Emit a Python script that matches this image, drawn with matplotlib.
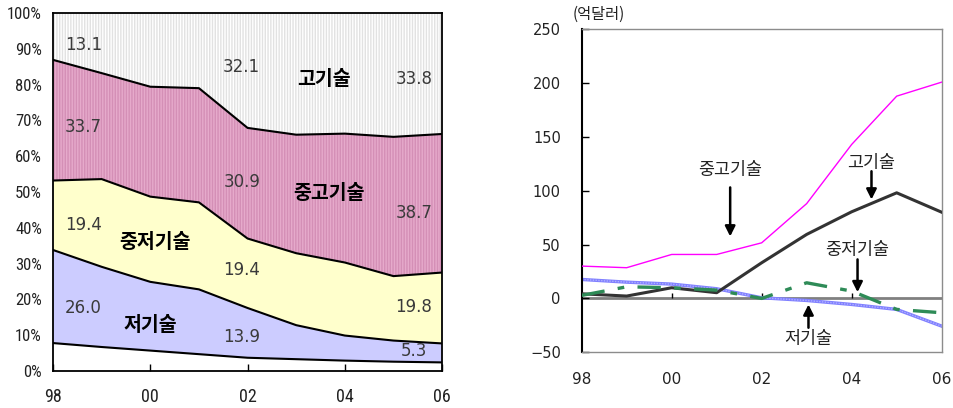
import numpy as np
import matplotlib
matplotlib.use("Agg")
import matplotlib.pyplot as plt
from matplotlib import font_manager

plt.rcParams['font.family'] = ['Noto Sans CJK KR', 'DejaVu Sans']
plt.rcParams['hatch.linewidth'] = 1.0

# ---- data -------------------------------------------------------------
years = [1998, 1999, 2000, 2001, 2002, 2003, 2004, 2005, 2006]
tick_years = [1998, 2000, 2002, 2004, 2006]
tick_labels = ['98', '00', '02', '04', '06']

# export share by technology level (%)
share_other = [7.8, 6.7, 5.7, 4.7, 3.7, 3.3, 2.9, 2.6, 2.4]
share_low = [26.0, 22.4, 19.2, 18.1, 13.9, 9.5, 7.0, 5.9, 5.3]
share_midlow = [19.4, 24.5, 23.8, 24.3, 19.4, 20.1, 20.4, 18.0, 19.8]
share_midhigh = [33.7, 29.6, 30.7, 31.9, 30.9, 33.1, 36.0, 38.9, 38.7]
share_high = [13.1, 16.8, 20.6, 21.0, 32.1, 34.0, 33.7, 34.6, 33.8]

# trade balance by technology level (100 million USD)
bal_high = [4.3, 2.2, 9.9, 5.3, 33.1, 59.4, 80.4, 98.0, 80.0]
bal_midhigh = [30.0, 28.5, 40.8, 40.8, 51.6, 88.0, 142.9, 187.7, 200.7]
bal_midlow = [2.8, 10.8, 9.9, 7.7, 0.0, 14.5, 6.8, -10.2, -13.3]
bal_low = [17.6, 15.1, 13.3, 9.0, 0.6, -1.9, -5.6, -10.2, -25.7]

pct_ticks = list(range(0, 101, 10))
bal_ticks = [-50, 0, 50, 100, 150, 200, 250]

# narrow face for the percentage axis, if one is available
installed = {f.name for f in font_manager.fontManager.ttflist}
narrow = [n for n in ('Liberation Sans Narrow', 'DejaVu Sans Condensed', 'Roboto Condensed')
          if n in installed]
narrow_family = (narrow[:1] or ['DejaVu Sans'])

fig = plt.figure(figsize=(9.54, 4.08), dpi=100)

# ---- left: stacked shares ---------------------------------------------
ax1 = fig.add_axes([0.0556, 0.0907, 0.4078, 0.8775])
x = np.array(years, dtype=float)
layers = [share_other, share_low, share_midlow, share_midhigh, share_high]
tops = np.cumsum(np.array(layers, dtype=float), axis=0)
bottoms = np.vstack([np.zeros(len(years)), tops[:-1]])

fills = ['white', '#CCCCFF', '#FFFFCC', '#E6AACB', 'white']
hatches = [None, None, None, '||||||', '||||||']
hatch_cols = [None, None, None, '#D48FB6', '#E2E2E2']
for i in range(len(layers)):
    ax1.fill_between(x, bottoms[i], tops[i], facecolor=fills[i], linewidth=0, zorder=1)
    if hatches[i]:
        ax1.fill_between(x, bottoms[i], tops[i], facecolor='none',
                         edgecolor=hatch_cols[i], hatch=hatches[i], linewidth=0, zorder=1.5)
for i in range(len(layers) - 1):
    ax1.plot(x, tops[i], color='black', lw=1.5, zorder=3)

ax1.set_xlim(years[0], years[-1])
ax1.set_ylim(0, 100)
ax1.set_yticks(pct_ticks)
ax1.set_yticklabels([f'{v}%' for v in pct_ticks])
ax1.set_xticks(tick_years)
ax1.set_xticklabels(tick_labels)
ax1.tick_params(axis='y', length=0, pad=8, labelsize=12)
ax1.tick_params(axis='x', direction='in', length=5, width=1, pad=12, labelsize=13)
for lab in ax1.get_xticklabels() + ax1.get_yticklabels():
    lab.set_family(narrow_family)
    lab.set_color('#222222')
for s in ax1.spines.values():
    s.set_color('black')
    s.set_linewidth(1.3)
    s.set_zorder(4)

# value labels at 98, 02, 06
val_layers = [share_low, share_midlow, share_midhigh, share_high]
label_pos = {
    0: (1998.62, [17.6, 40.8, 68.2, 91.1]),
    4: (2001.88, [9.5, 28.2, 52.8, 84.9]),
    8: (2005.42, [5.6, 17.9, 44.1, 81.6]),
}
for idx, (lx, ys) in label_pos.items():
    for layer, ly in zip(val_layers, ys):
        ax1.text(lx, ly, f'{layer[idx]:.1f}', ha='center', va='center',
                 fontsize=12, color='#3a3a3a', family='DejaVu Sans', zorder=5)

for txt, tx, ty in [('고기술', 2003.58, 81.3), ('중고기술', 2003.68, 49.7),
                    ('중저기술', 2000.1, 35.8), ('저기술', 1999.99, 12.8)]:
    ax1.text(tx, ty, txt, ha='center', va='center', fontsize=14,
             fontweight='bold', color='black', zorder=5)

# ---- right: trade balance ---------------------------------------------
ax2 = fig.add_axes([0.6097, 0.1365, 0.3774, 0.7924])
ax2.axhline(0, color='#808080', lw=2, zorder=1)
ax2.vlines(tick_years[1:-1], 0, 5, color='black', lw=1, zorder=1.5)

ax2.plot(years, bal_midhigh, color='#FF00FF', lw=1.0, zorder=3)
ax2.plot(years, bal_high, color='#333333', lw=2.2, zorder=3)
ax2.plot(years, bal_midlow, color='#2E8B57', lw=2.4, dashes=(7, 4, 2, 4), zorder=3)
ax2.plot(years, bal_low, color='#8080FF', lw=2.4, zorder=2)
ax2.plot(years, bal_low, color='#B0B0FF', lw=1.0, ls=(0, (1, 1)), zorder=2.1)

ax2.set_xlim(years[0], years[-1])
ax2.set_ylim(-50, 250)
ax2.set_yticks(bal_ticks)
ax2.set_yticklabels(['\u221250' if v < 0 else str(v) for v in bal_ticks])
ax2.set_xticks(tick_years)
ax2.set_xticklabels(tick_labels)
ax2.tick_params(axis='y', direction='in', length=5, width=1, pad=15, labelsize=10.5,
                labelcolor='#222222')
ax2.tick_params(axis='x', length=0, pad=14, labelsize=11, labelcolor='#222222')
for lab in ax2.get_xticklabels() + ax2.get_yticklabels():
    lab.set_family('DejaVu Sans')
for name, s in ax2.spines.items():
    if name == 'left':
        s.set_color('black')
        s.set_linewidth(1.5)
    else:
        s.set_color('#8C8C8C')
        s.set_linewidth(1.0)

ax2.text(-0.025, 1.045, '(억달러)', transform=ax2.transAxes, ha='left', va='center',
         fontsize=11, color='#222222')

arrow_kw = dict(arrowstyle='-|>,head_length=0.6,head_width=0.3', color='black', lw=1.8,
                shrinkA=0, shrinkB=0)
annos = [
    ('중고기술', (2001.3, 57.5), (2001.3, 103.0), 119.0),
    ('고기술', (2004.44, 91.8), (2004.44, 118.0), 126.0),
    ('중저기술', (2004.13, 5.8), (2004.13, 36.2), 44.5),
    ('저기술', (2003.04, -5.6), (2003.04, -27.2), -38.0),
]
for txt, tip, tail, ty in annos:
    ax2.annotate('', xy=tip, xytext=tail, arrowprops=arrow_kw, zorder=4)
    ax2.text(tip[0], ty, txt, ha='center', va='center', fontsize=12.5, color='#222222')

fig.savefig('out.png', dpi=100)
